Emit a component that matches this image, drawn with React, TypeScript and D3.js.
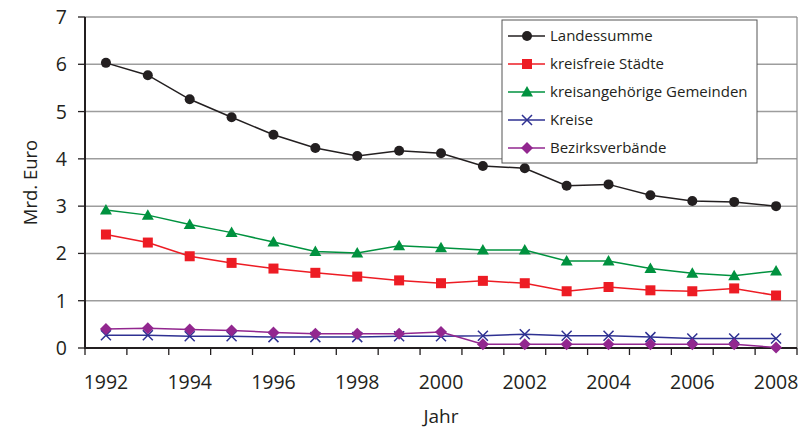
import React from "react";
import * as d3 from "d3";

// Jahre der Zeitreihe
const years = [1992, 1993, 1994, 1995, 1996, 1997, 1998, 1999, 2000, 2001, 2002, 2003, 2004, 2005, 2006, 2007, 2008];

// Werte in Mrd. Euro
const landessumme = [6.03, 5.77, 5.26, 4.88, 4.51, 4.23, 4.06, 4.17, 4.12, 3.85, 3.8, 3.43, 3.46, 3.23, 3.11, 3.09, 3.0];
const kreisfreieStaedte = [2.4, 2.23, 1.94, 1.8, 1.68, 1.59, 1.51, 1.43, 1.37, 1.42, 1.37, 1.2, 1.29, 1.22, 1.2, 1.26, 1.11];
const kreisangehoerigeGemeinden = [2.92, 2.81, 2.61, 2.44, 2.24, 2.04, 2.01, 2.16, 2.12, 2.07, 2.07, 1.84, 1.84, 1.68, 1.58, 1.53, 1.63];
const kreise = [0.27, 0.27, 0.25, 0.25, 0.23, 0.23, 0.23, 0.25, 0.25, 0.26, 0.29, 0.26, 0.26, 0.23, 0.2, 0.2, 0.2];
const bezirksverbaende = [0.4, 0.42, 0.39, 0.37, 0.33, 0.3, 0.3, 0.3, 0.34, 0.08, 0.08, 0.08, 0.08, 0.08, 0.08, 0.08, 0.01];

const yTicks = [0, 1, 2, 3, 4, 5, 6, 7];
const xLabelYears = [1992, 1994, 1996, 1998, 2000, 2002, 2004, 2006, 2008];

type Marker = "circle" | "square" | "triangle" | "cross" | "diamond";

const series: { name: string; values: number[]; color: string; marker: Marker }[] = [
  { name: "Landessumme", values: landessumme, color: "#231f20", marker: "circle" },
  { name: "kreisfreie Städte", values: kreisfreieStaedte, color: "#ed1c24", marker: "square" },
  { name: "kreisangehörige Gemeinden", values: kreisangehoerigeGemeinden, color: "#00923f", marker: "triangle" },
  { name: "Kreise", values: kreise, color: "#2e3192", marker: "cross" },
  { name: "Bezirksverbände", values: bezirksverbaende, color: "#92278f", marker: "diamond" },
];

const FONT = "'Open Sans', 'Noto Sans', sans-serif";

const W = 803;
const H = 430;
const plot = { left: 85, right: 797, top: 17, bottom: 348 };

function MarkerShape({ type, x, y, color }: { type: Marker; x: number; y: number; color: string }) {
  switch (type) {
    case "circle":
      return <circle cx={x} cy={y} r={5} fill={color} />;
    case "square":
      return <rect x={x - 5} y={y - 5} width={10} height={10} fill={color} />;
    case "triangle":
      return <path d={`M${x},${y - 6} L${x + 6},${y + 4.5} L${x - 6},${y + 4.5} Z`} fill={color} />;
    case "cross":
      return (
        <path
          d={`M${x - 5},${y - 5} L${x + 5},${y + 5} M${x + 5},${y - 5} L${x - 5},${y + 5}`}
          stroke={color}
          strokeWidth={1.5}
          fill="none"
        />
      );
    case "diamond":
      return <path d={`M${x},${y - 6} L${x + 6},${y} L${x},${y + 6} L${x - 6},${y} Z`} fill={color} />;
  }
}

export default function App() {
  const x = d3
    .scaleBand<number>()
    .domain(years)
    .range([plot.left, plot.right]);
  const y = d3.scaleLinear().domain([0, 7]).range([plot.bottom, plot.top]);

  const line = d3
    .line<number>()
    .x((_, i) => (x(years[i]) as number) + x.bandwidth() / 2)
    .y((d) => y(d));

  const tickPositions = years.map((yr) => x(yr) as number).concat([plot.right]);

  const legend = { x: 502, y: 20, w: 255, h: 143 };
  const midX = (plot.left + plot.right) / 2;
  const midY = (plot.top + plot.bottom) / 2;

  return (
    <svg width={W} height={H} style={{ position: "absolute", left: 0, top: 0 }} fontFamily={FONT}>
      <rect width={W} height={H} fill="#fff" />

      {/* Gitterlinien */}
      {yTicks.map((t) => (
        <line key={t} x1={plot.left} x2={plot.right} y1={y(t)} y2={y(t)} stroke="#9d9d9d" strokeWidth={1.5} />
      ))}
      <line x1={plot.right} x2={plot.right} y1={plot.top} y2={plot.bottom} stroke="#8a8a8a" strokeWidth={1.2} />

      {/* Y-Achse */}
      <line x1={plot.left} x2={plot.left} y1={plot.top} y2={plot.bottom + 1} stroke="#231f20" strokeWidth={2} />
      {yTicks.map((t) => (
        <g key={t}>
          <line x1={plot.left - 7} x2={plot.left} y1={y(t)} y2={y(t)} stroke="#231f20" strokeWidth={1.3} />
          <text x={67} y={y(t)} dy="0.36em" textAnchor="end" fontSize={19.5} fill="#231f20">
            {t}
          </text>
        </g>
      ))}

      {/* X-Achse */}
      <line x1={plot.left - 1} x2={plot.right} y1={plot.bottom} y2={plot.bottom} stroke="#231f20" strokeWidth={2} />
      {tickPositions.map((p, i) => (
        <line key={i} x1={p} x2={p} y1={plot.bottom} y2={plot.bottom + 7} stroke="#231f20" strokeWidth={1.3} />
      ))}
      {xLabelYears.map((yr) => (
        <text
          key={yr}
          x={(x(yr) as number) + x.bandwidth() / 2}
          y={382}
          dy="0.36em"
          textAnchor="middle"
          fontSize={19.5}
          fill="#231f20"
        >
          {yr}
        </text>
      ))}

      {/* Achsentitel */}
      <text x={midX} y={423} textAnchor="middle" fontSize={19} fill="#231f20">
        Jahr
      </text>
      <text
        transform={`translate(37, ${midY}) rotate(-90)`}
        textAnchor="middle"
        fontSize={18.5}
        fill="#231f20"
      >
        Mrd. Euro
      </text>

      {/* Datenreihen */}
      {series.map((s) => (
        <g key={s.name}>
          <path d={line(s.values) ?? ""} fill="none" stroke={s.color} strokeWidth={1.5} />
          {s.values.map((v, i) => (
            <MarkerShape
              key={i}
              type={s.marker}
              x={(x(years[i]) as number) + x.bandwidth() / 2}
              y={y(v)}
              color={s.color}
            />
          ))}
        </g>
      ))}

      {/* Legende */}
      <rect x={legend.x} y={legend.y} width={legend.w} height={legend.h} fill="#fff" stroke="#555" strokeWidth={1} />
      {series.map((s, i) => {
        const cy = 36 + i * 28;
        return (
          <g key={s.name}>
            <line x1={508} x2={545} y1={cy} y2={cy} stroke={s.color} strokeWidth={1.5} />
            <MarkerShape type={s.marker} x={527} y={cy} color={s.color} />
            <text x={550} y={cy} dy="0.36em" fontSize={15} fill="#231f20">
              {s.name}
            </text>
          </g>
        );
      })}
    </svg>
  );
}
